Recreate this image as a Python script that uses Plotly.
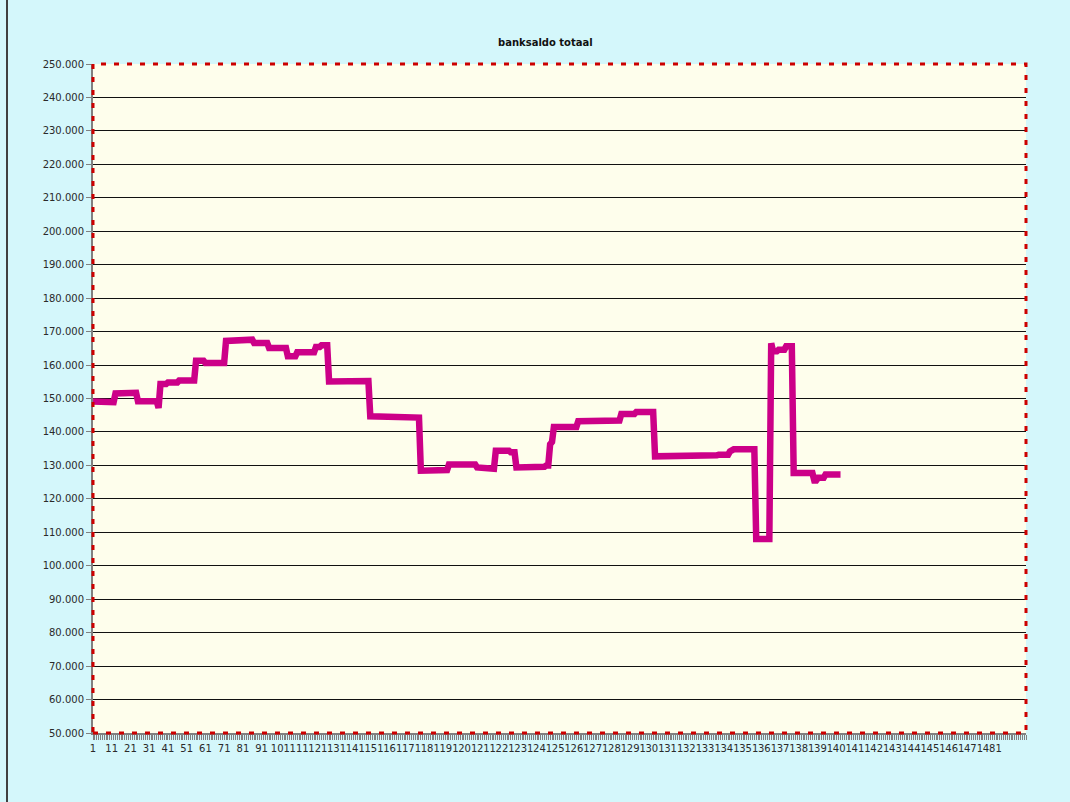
import plotly.graph_objects as go

# ---- data ----
# bank balance per entry, in thousands of euro
saldo_k = [
    149.1, 149.1, 149.1,
    148.9, 148.9, 148.9, 148.9, 148.9, 148.9, 148.9, 148.9, 148.9,
    151.5, 151.5, 151.5, 151.5, 151.5, 151.5,
    151.7, 151.7, 151.7, 151.7, 151.7, 151.7,
    149.2, 149.2, 149.2, 149.2, 149.2, 149.2, 149.2, 149.2, 149.2, 149.2, 149.2,
    147.2,
    154.3, 154.3, 154.3, 154.3,
    154.8, 154.8, 154.8, 154.8, 154.8, 154.8,
    155.4, 155.4, 155.4, 155.4, 155.4, 155.4, 155.4, 155.4, 155.4,
    161.3, 161.3, 161.3, 161.3, 161.3,
    160.6, 160.6, 160.6, 160.6, 160.6, 160.6, 160.6, 160.6, 160.6, 160.6, 160.6,
    167.2, 167.2, 167.2, 167.2, 167.2, 167.2, 167.2, 167.2, 167.2, 167.2, 167.2, 167.2,
    167.6, 167.6, 167.6,
    166.6, 166.6, 166.6, 166.6, 166.6, 166.6, 166.6, 166.6,
    165.1, 165.1, 165.1, 165.1, 165.1, 165.1, 165.1, 165.1, 165.1, 165.1,
    162.6, 162.6, 162.6, 162.6, 162.6,
    163.8, 163.8, 163.8, 163.8, 163.8, 163.8, 163.8, 163.8, 163.8, 163.8,
    165.4, 165.4, 165.4,
    165.9, 165.9, 165.9, 165.9,
    155.1, 155.1, 155.1, 155.1, 155.1, 155.1, 155.1, 155.1, 155.1, 155.1, 155.1,
    155.2, 155.2, 155.2, 155.2, 155.2, 155.2, 155.2, 155.2, 155.2, 155.2, 155.2,
    144.7, 144.7, 144.7, 144.7, 144.7, 144.7, 144.7, 144.7, 144.7, 144.7,
    144.7, 144.7, 144.7, 144.7, 144.7, 144.7, 144.7, 144.7, 144.7,
    144.3, 144.3, 144.3, 144.3, 144.3, 144.3, 144.3, 144.3,
    128.4, 128.4, 128.4,
    128.6, 128.6, 128.6, 128.6, 128.6, 128.6, 128.6, 128.6, 128.6, 128.6, 128.6, 128.6,
    130.3, 130.3, 130.3, 130.3, 130.3, 130.3, 130.3, 130.3, 130.3, 130.3,
    130.3, 130.3, 130.3, 130.3, 130.3,
    129.4, 129.4, 129.4, 129.4,
    129.0, 129.0, 129.0, 129.0, 129.0, 129.0,
    134.4, 134.4, 134.4, 134.4, 134.4, 134.4, 134.4, 134.4,
    133.9, 133.9, 133.9,
    129.4, 129.4, 129.4, 129.4, 129.4, 129.4, 129.4, 129.4, 129.4, 129.4,
    129.6, 129.6, 129.6, 129.6, 129.6, 129.6,
    130.0, 130.0,
    136.3,
    137.0,
    141.5, 141.5, 141.5, 141.5, 141.5, 141.5, 141.5, 141.5, 141.5, 141.5, 141.5, 141.5, 141.5,
    143.2, 143.2, 143.2, 143.2, 143.2, 143.2, 143.2, 143.2, 143.2,
    143.5, 143.5, 143.5, 143.5, 143.5, 143.5, 143.5, 143.5,
    143.4, 143.4, 143.4, 143.4, 143.4, 143.4,
    145.4, 145.4, 145.4, 145.4, 145.4, 145.4, 145.4, 145.4,
    146.0, 146.0, 146.0, 146.0, 146.0, 146.0, 146.0, 146.0, 146.0, 146.0,
    132.7, 132.7, 132.7, 132.7, 132.7, 132.7, 132.7, 132.7, 132.7, 132.7,
    132.7, 132.7, 132.7, 132.7, 132.7, 132.7, 132.7, 132.7, 132.7, 132.7,
    132.7, 132.7, 132.7, 132.7, 132.7,
    133.0, 133.0, 133.0, 133.0, 133.0, 133.0, 133.0, 133.0, 133.0,
    133.2, 133.2, 133.2, 133.2, 133.2, 133.2,
    134.2,
    134.8, 134.8, 134.8, 134.8, 134.8, 134.8, 134.8, 134.8, 134.8, 134.8, 134.8, 134.8, 134.8,
    108.0, 108.0, 108.0, 108.0, 108.0, 108.0, 108.0, 108.0,
    166.5,
    164.1, 164.1, 164.1,
    164.6, 164.6, 164.6, 164.6,
    165.6, 165.6, 165.6, 165.6,
    127.7, 127.7, 127.7, 127.7, 127.7, 127.7, 127.7, 127.7, 127.7, 127.7, 127.7,
    125.5, 125.5,
    126.3, 126.3, 126.3, 126.3,
    127.3, 127.3, 127.3, 127.3, 127.3, 127.3, 127.3, 127.3, 127.3,
]
entry_nr = list(range(1, len(saldo_k) + 1))
saldo = [v * 1000 for v in saldo_k]

# category axis: 499 slots, labelled every 10th
n_categories = 499
x_tick_vals = [1, 11, 21, 31, 41, 51, 61, 71, 81, 91, 101, 111, 121, 131, 141, 151,
               161, 171, 181, 191, 201, 211, 221, 231, 241, 251, 261, 271, 281, 291,
               301, 311, 321, 331, 341, 351, 361, 371, 381, 391, 401, 411, 421, 431,
               441, 451, 461, 471, 481]
x_tick_text = [str(v) for v in x_tick_vals]

title_text = "banksaldo totaal"

FONT = "DejaVu Sans"
TXT = "#2a2a2a"

fig = go.Figure()
fig.add_trace(go.Scatter(
    x=entry_nr, y=saldo, mode="lines",
    line=dict(color="#CC0088", width=6.5),
    hoverinfo="skip", showlegend=False,
))

fig.update_layout(
    width=1070, height=802,
    margin=dict(l=93, r=44, t=64, b=69),
    paper_bgcolor="#D4F7FB",
    plot_bgcolor="#FEFEEC",
    separators=",.",
    font=dict(family=FONT, size=10, color=TXT),
    showlegend=False,
)

fig.update_xaxes(
    range=[1, n_categories],
    tickmode="array", tickvals=x_tick_vals, ticktext=x_tick_text,
    tickangle=0,
    ticks="outside", ticklen=5, tickcolor="#808080",
    minor=dict(dtick=1, tick0=1, ticks="outside", ticklen=5, tickcolor="#808080", showgrid=False),
    showgrid=False, zeroline=False,
    showline=True, linecolor="#808080", linewidth=2,
    tickfont=dict(family=FONT, size=10, color=TXT),
)
fig.update_yaxes(
    range=[50000, 250000], dtick=10000, tick0=50000,
    tickformat=",d",
    ticks="outside", ticklen=5, tickcolor="#808080",
    showgrid=True, gridcolor="#111111", gridwidth=1,
    zeroline=False,
    showline=True, linecolor="#808080", linewidth=2,
    tickfont=dict(family=FONT, size=10, color=TXT),
)

# red dashed plot-area border
fig.add_shape(type="rect", xref="paper", yref="paper", x0=0, x1=1, y0=0, y1=1,
              line=dict(color="#CC0000", width=3, dash="5px,8px"), layer="above")
# chart-area frame on the left
fig.add_shape(type="line", xref="paper", yref="paper",
              x0=(7 - 93) / 933, x1=(7 - 93) / 933, y0=-0.11, y1=1.1,
              line=dict(color="#404040", width=2))

fig.add_annotation(
    text="<b>" + title_text + "</b>", xref="paper", yref="paper",
    x=(545 - 93) / 933, y=(733 - 42) / 669, xanchor="center", yanchor="middle",
    showarrow=False, font=dict(family=FONT, size=10, color="#111111"),
)

fig.write_html("out.html", config={"displayModeBar": False},
               post_script="document.body.style.margin='0';")
